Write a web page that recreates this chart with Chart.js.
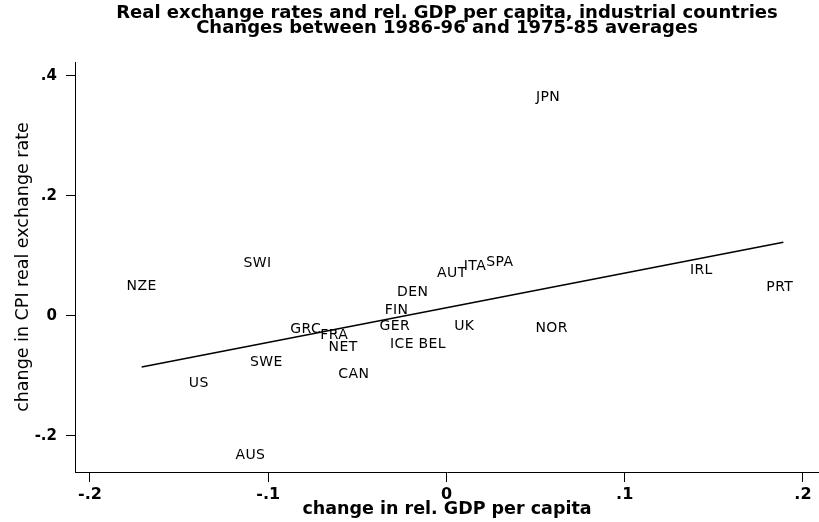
<!DOCTYPE html>
<html>
<head>
<meta charset="utf-8">
<script src="https://cdn.jsdelivr.net/npm/chart.js@4.4.1/dist/chart.umd.min.js"></script>
<style>
  html, body { margin: 0; padding: 0; background: #fff; }
  #wrap { width: 819px; height: 522px; }
</style>
</head>
<body>
<div id="wrap"><canvas id="myChart" width="819" height="522"></canvas></div>
<script>
// country codes and the two changes
const countries = ['JPN', 'SWI', 'NZE', 'AUT', 'ITA', 'SPA', 'IRL', 'PRT', 'DEN', 'FIN', 'GRC',
                   'FRA', 'NET', 'GER', 'ICE', 'BEL', 'UK', 'NOR', 'SWE', 'CAN', 'US', 'AUS'];
const gdp_change = [0.057, -0.106, -0.171, 0.003, 0.016, 0.030, 0.143, 0.187, -0.019, -0.028, -0.079,
                    -0.063, -0.058, -0.029, -0.025, -0.008, 0.010, 0.059, -0.101, -0.052, -0.139, -0.110];
const rer_change = [0.365, 0.087, 0.050, 0.071, 0.082, 0.090, 0.076, 0.047, 0.040, 0.010, -0.023,
                    -0.033, -0.053, -0.018, -0.048, -0.048, -0.018, -0.021, -0.078, -0.097, -0.113, -0.233];

// fitted line, end points
const fit_x = [-0.171, 0.189];
const fit_y = [-0.085, 0.123];

const x_ticks = [-0.2, -0.1, 0, 0.1, 0.2];
const x_tick_labels = ['-.2', '-.1', '0', '.1', '.2'];
const y_ticks = [-0.2, 0, 0.2, 0.4];
const y_tick_labels = ['-.2', '0', '.2', '.4'];

const FONT = "'DejaVu Sans', 'Liberation Sans', Arial, sans-serif";

// draws the country codes in place of markers
const countryLabels = {
    id: 'countryLabels',
    afterDatasetsDraw(chart) {
        const ctx = chart.ctx;
        const meta = chart.getDatasetMeta(0);
        ctx.save();
        ctx.fillStyle = '#000';
        ctx.font = '14px ' + FONT;
        ctx.letterSpacing = '0.4px';
        ctx.textAlign = 'center';
        ctx.textBaseline = 'middle';
        meta.data.forEach((pt, i) => {
            ctx.fillText(countries[i], pt.x, pt.y);
        });
        ctx.restore();
    }
};

const points = gdp_change.map((x, i) => ({x: x, y: rer_change[i]}));
const fit_points = fit_x.map((x, i) => ({x: x, y: fit_y[i]}));

new Chart(document.getElementById('myChart').getContext('2d'), {
    type: 'scatter',
    data: {
        datasets: [
            {
                data: points,
                pointRadius: 0,
                showLine: false
            },
            {
                type: 'line',
                data: fit_points,
                borderColor: '#000',
                borderWidth: 1.6,
                pointRadius: 0,
                fill: false
            }
        ]
    },
    options: {
        responsive: false,
        animation: false,
        layout: { padding: 0 },
        plugins: {
            legend: { display: false },
            tooltip: { enabled: false },
            title: {
                display: true,
                fullSize: false,
                text: ['Real exchange rates and rel. GDP per capita, industrial countries',
                       'Changes between 1986-96 and 1975-85 averages'],
                color: '#000',
                font: { family: FONT, size: 18, weight: 'bold', lineHeight: '15px' },
                padding: { top: 6, bottom: 26 }
            }
        },
        scales: {
            x: {
                type: 'linear',
                min: -0.2084,
                max: 0.209,
                afterBuildTicks: s => { s.ticks = x_ticks.map(v => ({value: v})); },
                afterFit: s => { s.height = 50; },
                grid: { drawOnChartArea: false, drawTicks: true, tickLength: 10, tickColor: '#000' },
                border: { display: true, color: '#000', width: 1 },
                ticks: {
                    color: '#000',
                    padding: 3,
                    maxRotation: 0,
                    font: { family: FONT, size: 16, weight: 'bold' },
                    callback: v => x_tick_labels[x_ticks.indexOf(v)]
                },
                title: {
                    display: true,
                    text: 'change in rel. GDP per capita',
                    color: '#000',
                    font: { family: FONT, size: 17.5, weight: 'bold' },
                    padding: { top: 0, bottom: 2 }
                }
            },
            y: {
                type: 'linear',
                min: -0.26,
                max: 0.4233,
                afterBuildTicks: s => { s.ticks = y_ticks.map(v => ({value: v})); },
                afterFit: s => { s.width = 75; },
                grid: { drawOnChartArea: false, drawTicks: true, tickLength: 9, tickColor: '#000' },
                border: { display: true, color: '#000', width: 1 },
                ticks: {
                    color: '#000',
                    padding: 9,
                    font: { family: FONT, size: 15, weight: 'bold' },
                    callback: v => y_tick_labels[y_ticks.indexOf(v)]
                },
                title: {
                    display: true,
                    text: 'change in CPI real exchange rate',
                    color: '#000',
                    font: { family: FONT, size: 17.5 },
                    padding: { top: 13, bottom: 0 }
                }
            }
        }
    },
    plugins: [countryLabels]
});
</script>
</body>
</html>
